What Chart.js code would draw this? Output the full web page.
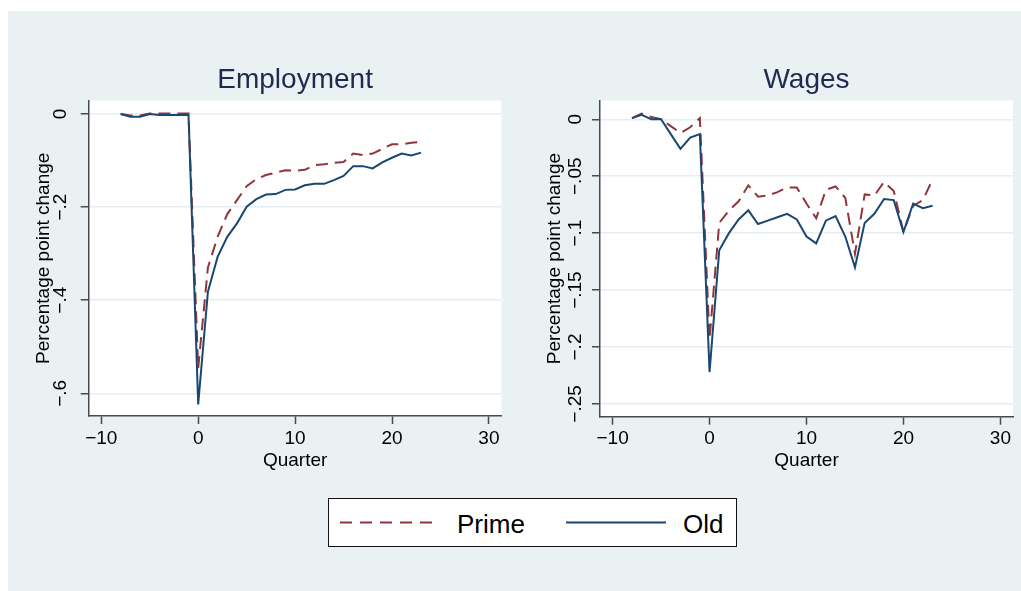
<!DOCTYPE html>
<html>
<head>
<meta charset="utf-8">
<script src="https://cdn.jsdelivr.net/npm/chart.js@4.4.1/dist/chart.umd.min.js"></script>
<style>
  html, body { margin: 0; padding: 0; background: #ffffff; }
  body { width: 1021px; height: 591px; position: relative; overflow: hidden; }
  #bg { position: absolute; left: 8px; top: 11px; width: 1013px; height: 580px; background: #E9F1F3; }
  canvas { position: absolute; }
  #empCanvas { left: 8px; top: 11px; width: 505px; height: 470px; }
  #wageCanvas { left: 513px; top: 11px; width: 508px; height: 470px; }
  #legend { position: absolute; left: 0; top: 0; }
</style>
</head>
<body>
<div id="bg"></div>
<canvas id="empCanvas" width="505" height="470"></canvas>
<canvas id="wageCanvas" width="508" height="470"></canvas>
<svg id="legend" width="1021" height="591" font-family="'Liberation Sans', Arial, Helvetica, sans-serif">
  <rect x="328.5" y="498.5" width="408" height="48" fill="#ffffff" stroke="#111111" stroke-width="1"/>
  <line x1="340" y1="522.5" x2="440" y2="522.5" stroke="#90353B" stroke-width="2" stroke-dasharray="12 8"/>
  <text x="457" y="533" font-size="26" fill="#000000">Prime</text>
  <line x1="566" y1="522.5" x2="666" y2="522.5" stroke="#1A476F" stroke-width="2"/>
  <text x="683" y="533" font-size="26" fill="#000000">Old</text>
</svg>
<script>
// Event time in quarters relative to the shock
const quarters = [-8, -7, -6, -5, -4, -3, -2, -1, 0, 1, 2, 3, 4, 5, 6, 7,
                  8, 9, 10, 11, 12, 13, 14, 15, 16, 17, 18, 19, 20, 21, 22, 23];

// Employment, percentage point change
const empPrime = [0.000, -0.003, -0.003, 0.001, 0.001, 0.001, 0.001, 0.001,
                  -0.546, -0.330, -0.264, -0.215, -0.185, -0.155, -0.140, -0.131,
                  -0.126, -0.121, -0.122, -0.120, -0.110, -0.108, -0.105, -0.103,
                  -0.085, -0.088, -0.085, -0.075, -0.065, -0.065, -0.062, -0.060];
const empOld   = [0.000, -0.006, -0.006, 0.000, -0.002, -0.002, -0.002, -0.002,
                  -0.624, -0.382, -0.307, -0.264, -0.235, -0.199, -0.183, -0.173,
                  -0.172, -0.163, -0.162, -0.153, -0.150, -0.150, -0.142, -0.133,
                  -0.112, -0.112, -0.117, -0.104, -0.094, -0.085, -0.089, -0.083];

// Wages, percentage point change
const wagePrime = [0.001, 0.005, 0.002, 0.000, -0.006, -0.012, -0.007, 0.001,
                   -0.193, -0.091, -0.080, -0.072, -0.058, -0.068, -0.067, -0.064,
                   -0.060, -0.060, -0.074, -0.087, -0.062, -0.059, -0.069, -0.118,
                   -0.066, -0.067, -0.055, -0.063, -0.099, -0.076, -0.071, -0.053];
const wageOld   = [0.001, 0.004, 0.000, 0.000, -0.013, -0.026, -0.016, -0.013,
                   -0.222, -0.115, -0.100, -0.088, -0.080, -0.092, -0.089, -0.086,
                   -0.083, -0.088, -0.103, -0.109, -0.089, -0.085, -0.103, -0.130,
                   -0.091, -0.083, -0.070, -0.071, -0.099, -0.074, -0.078, -0.076];

// Axis ticks and their printed labels
const xTicks = [-10, 0, 10, 20, 30];
const xTickLabels = ['\u221210', '0', '10', '20', '30'];
const empTicks = [0, -0.2, -0.4, -0.6];
const empTickLabels = ['0', '\u2212.2', '\u2212.4', '\u2212.6'];
const wageTicks = [0, -0.05, -0.1, -0.15, -0.2, -0.25];
const wageTickLabels = ['0', '\u2212.05', '\u2212.1', '\u2212.15', '\u2212.2', '\u2212.25'];

const FONT = '"Liberation Sans", Arial, Helvetica, sans-serif';
const PRIME_COLOR = '#90353B';
const OLD_COLOR = '#1A476F';
const AXIS_COLOR = '#4a4a4a';
const GRID_COLOR = '#E5EDF0';

// White plot region, panel title, axis titles and vertical y tick labels
const panelDecor = {
  id: 'panelDecor',
  beforeDraw(chart) {
    const { ctx, chartArea: a } = chart;
    ctx.save();
    ctx.fillStyle = '#ffffff';
    ctx.fillRect(a.left, a.top, a.right - a.left, a.bottom - a.top);
    ctx.restore();
  },
  afterDraw(chart, args, o) {
    const { ctx, chartArea: a, scales: { y } } = chart;
    const cx = (a.left + a.right) / 2;
    ctx.save();
    ctx.textAlign = 'center';
    ctx.textBaseline = 'alphabetic';
    ctx.fillStyle = '#1E2A4E';
    ctx.font = '28px ' + FONT;
    ctx.fillText(o.title, cx, o.titleBaseline);

    ctx.fillStyle = '#000000';
    ctx.font = '19px ' + FONT;
    ctx.fillText(o.xTitle, cx, o.xTitleBaseline);

    ctx.textBaseline = 'middle';
    o.yValues.forEach((v, i) => {
      const py = y.getPixelForValue(v);
      ctx.save();
      ctx.translate(a.left - o.yLabelGap, py);
      ctx.rotate(-Math.PI / 2);
      ctx.fillText(o.yLabels[i], 0, 0);
      ctx.restore();
    });

    ctx.save();
    ctx.translate(a.left - o.yTitleGap, (a.top + a.bottom) / 2);
    ctx.rotate(-Math.PI / 2);
    ctx.fillText(o.yTitle, 0, 0);
    ctx.restore();
    ctx.restore();
  }
};

function series(vals) {
  return quarters.map((q, i) => ({ x: q, y: vals[i] }));
}

function makePanel(id, primeVals, oldVals, cfg) {
  return new Chart(document.getElementById(id), {
    type: 'line',
    data: {
      datasets: [
        { label: 'Prime', data: series(primeVals), borderColor: PRIME_COLOR, borderWidth: 2,
          borderDash: [12, 7], pointRadius: 0, tension: 0, fill: false, order: 2 },
        { label: 'Old', data: series(oldVals), borderColor: OLD_COLOR, borderWidth: 2,
          pointRadius: 0, tension: 0, fill: false, order: 1 }
      ]
    },
    options: {
      responsive: false,
      animation: false,
      events: [],
      layout: { padding: { left: 0, right: cfg.rightPad, top: 89.5, bottom: cfg.bottomPad } },
      plugins: {
        legend: { display: false },
        tooltip: { enabled: false },
        title: { display: false },
        panelDecor: cfg.decor
      },
      scales: {
        x: {
          type: 'linear', min: -11.3, max: 31.3,
          afterBuildTicks: s => { s.ticks = xTicks.map(v => ({ value: v })); },
          afterFit: s => { s.height = 50; },
          grid: { drawOnChartArea: false, drawTicks: true, tickLength: 8, tickColor: AXIS_COLOR, tickWidth: 1.5 },
          border: { display: true, color: AXIS_COLOR, width: 1.5 },
          ticks: { autoSkip: false, maxRotation: 0, minRotation: 0, padding: 3, color: '#000000',
                   font: { family: FONT, size: 19 },
                   callback: (v, i) => xTickLabels[i] }
        },
        y: {
          type: 'linear', min: cfg.yMin, max: cfg.yMax,
          afterBuildTicks: s => { s.ticks = cfg.decor.yValues.map(v => ({ value: v })); },
          afterFit: s => { s.width = cfg.yWidth; },
          grid: { color: GRID_COLOR, lineWidth: 1.5, drawTicks: true, tickLength: 8,
                  tickColor: AXIS_COLOR, tickWidth: 1.5 },
          border: { display: true, color: AXIS_COLOR, width: 1.5 },
          ticks: { display: false }
        }
      }
    },
    plugins: [panelDecor]
  });
}

makePanel('empCanvas', empPrime, empOld, {
  rightPad: 11.5, bottomPad: 15, yWidth: 80.7, yMin: -0.6488, yMax: 0.029,
  decor: { title: 'Employment', titleBaseline: 77, xTitle: 'Quarter', xTitleBaseline: 455,
           yTitle: 'Percentage point change', yTitleGap: 45, yLabelGap: 28,
           yValues: empTicks, yLabels: empTickLabels }
});

makePanel('wageCanvas', wagePrime, wageOld, {
  rightPad: 8, bottomPad: 14.3, yWidth: 87, yMin: -0.2612, yMax: 0.0165,
  decor: { title: 'Wages', titleBaseline: 77, xTitle: 'Quarter', xTitleBaseline: 455,
           yTitle: 'Percentage point change', yTitleGap: 45, yLabelGap: 24,
           yValues: wageTicks, yLabels: wageTickLabels }
});
</script>
</body>
</html>
